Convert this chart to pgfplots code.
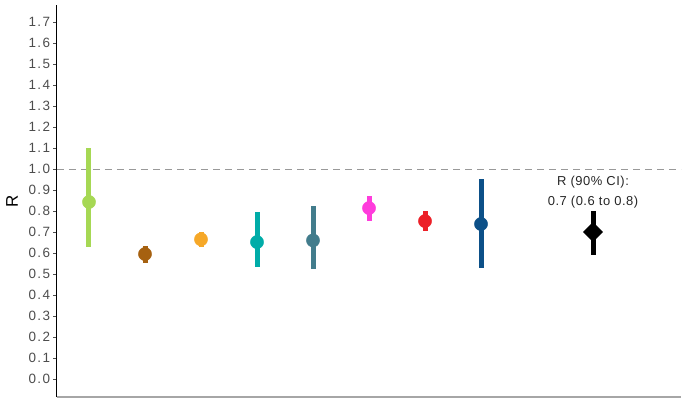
\documentclass[border=0pt]{standalone}
\usepackage{pgfplots}
\pgfplotsset{compat=1.18}
\usepackage{fontspec}
\setmainfont{Liberation Sans}
\newfontfamily\tickfont[LetterSpace=10]{Liberation Sans}
\newfontfamily\notefont[LetterSpace=4]{Liberation Sans}

\definecolor{cgreen}{RGB}{166,216,84}
\definecolor{cbrown}{RGB}{166,97,16}
\definecolor{corange}{RGB}{246,168,40}
\definecolor{cteal}{RGB}{0,172,168}
\definecolor{cslate}{RGB}{66,124,140}
\definecolor{cmagenta}{RGB}{255,60,220}
\definecolor{cred}{RGB}{236,32,40}
\definecolor{cblue}{RGB}{12,80,136}
\definecolor{tickgray}{RGB}{77,77,77}

\begin{document}
\begin{tikzpicture}
\begin{axis}[
  scale only axis,
  width=624bp, height=392bp,
  xmin=0.4286, xmax=11.571,
  ymin=-0.0857, ymax=1.781,
  axis x line=bottom, axis y line=left,
  axis line style={-},
  x axis line style={draw=gray!70, line width=1.2bp},
  y axis line style={draw=black, line width=1bp},
  xtick=\empty,
  ytick={0,0.1,...,1.71},
  /pgf/number format/fixed,
  /pgf/number format/fixed zerofill,
  /pgf/number format/precision=1,
  /pgf/number format/assume math mode=true,
  yticklabel style={font=\tickfont\fontsize{13.5}{15}\selectfont, text=tickgray, xshift=0.5bp},
  tick style={draw=tickgray, line width=0.6bp},
  major tick length=4bp,
  tick align=outside,
  ylabel={R},
  ylabel style={font=\fontsize{17}{19}\selectfont, at={(axis description cs:-0.072,0.5)}, anchor=center},
  clip=false,
  error bars/y dir=both, error bars/y explicit,
  error bars/error mark=none,
]
\addplot[draw=gray!80, dashed, line width=1bp, dash pattern=on 7bp off 5bp, forget plot] coordinates {(0.4286,1) (11.571,1)};

\addplot[only marks, mark=*, mark size=6.6bp, color=cgreen, error bars/error bar style={line width=5bp, cgreen}]
  coordinates {(1,0.843) += (0,0.257) -= (0,0.213)};
\addplot[only marks, mark=*, mark size=6.6bp, color=cbrown, error bars/error bar style={line width=5bp, cbrown}]
  coordinates {(2,0.595) += (0,0.038) -= (0,0.043)};
\addplot[only marks, mark=*, mark size=6.6bp, color=corange, error bars/error bar style={line width=5bp, corange}]
  coordinates {(3,0.665) += (0,0.033) -= (0,0.035)};
\addplot[only marks, mark=*, mark size=6.6bp, color=cteal, error bars/error bar style={line width=5bp, cteal}]
  coordinates {(4,0.652) += (0,0.143) -= (0,0.119)};
\addplot[only marks, mark=*, mark size=6.6bp, color=cslate, error bars/error bar style={line width=5bp, cslate}]
  coordinates {(5,0.660) += (0,0.164) -= (0,0.136)};
\addplot[only marks, mark=*, mark size=6.6bp, color=cmagenta, error bars/error bar style={line width=5bp, cmagenta}]
  coordinates {(6,0.814) += (0,0.057) -= (0,0.062)};
\addplot[only marks, mark=*, mark size=6.6bp, color=cred, error bars/error bar style={line width=5bp, cred}]
  coordinates {(7,0.752) += (0,0.048) -= (0,0.047)};
\addplot[only marks, mark=*, mark size=6.6bp, color=cblue, error bars/error bar style={line width=5bp, cblue}]
  coordinates {(8,0.738) += (0,0.214) -= (0,0.209)};
\addplot[only marks, mark=square*, mark size=6.8bp, mark options={rotate=45}, color=black, error bars/error bar style={line width=5bp, black}]
  coordinates {(10,0.700) += (0,0.100) -= (0,0.110)};

\node[font=\notefont\fontsize{13}{15}\selectfont, text=black!85] at (axis cs:10,0.938) {R (90\% CI):};
\node[font=\notefont\fontsize{13}{15}\selectfont, text=black!85] at (axis cs:10,0.843) {0.7 (0.6 to 0.8)};
\end{axis}
\path (-57bp,-10bp) rectangle (631bp,397bp);
\end{tikzpicture}
\end{document}
